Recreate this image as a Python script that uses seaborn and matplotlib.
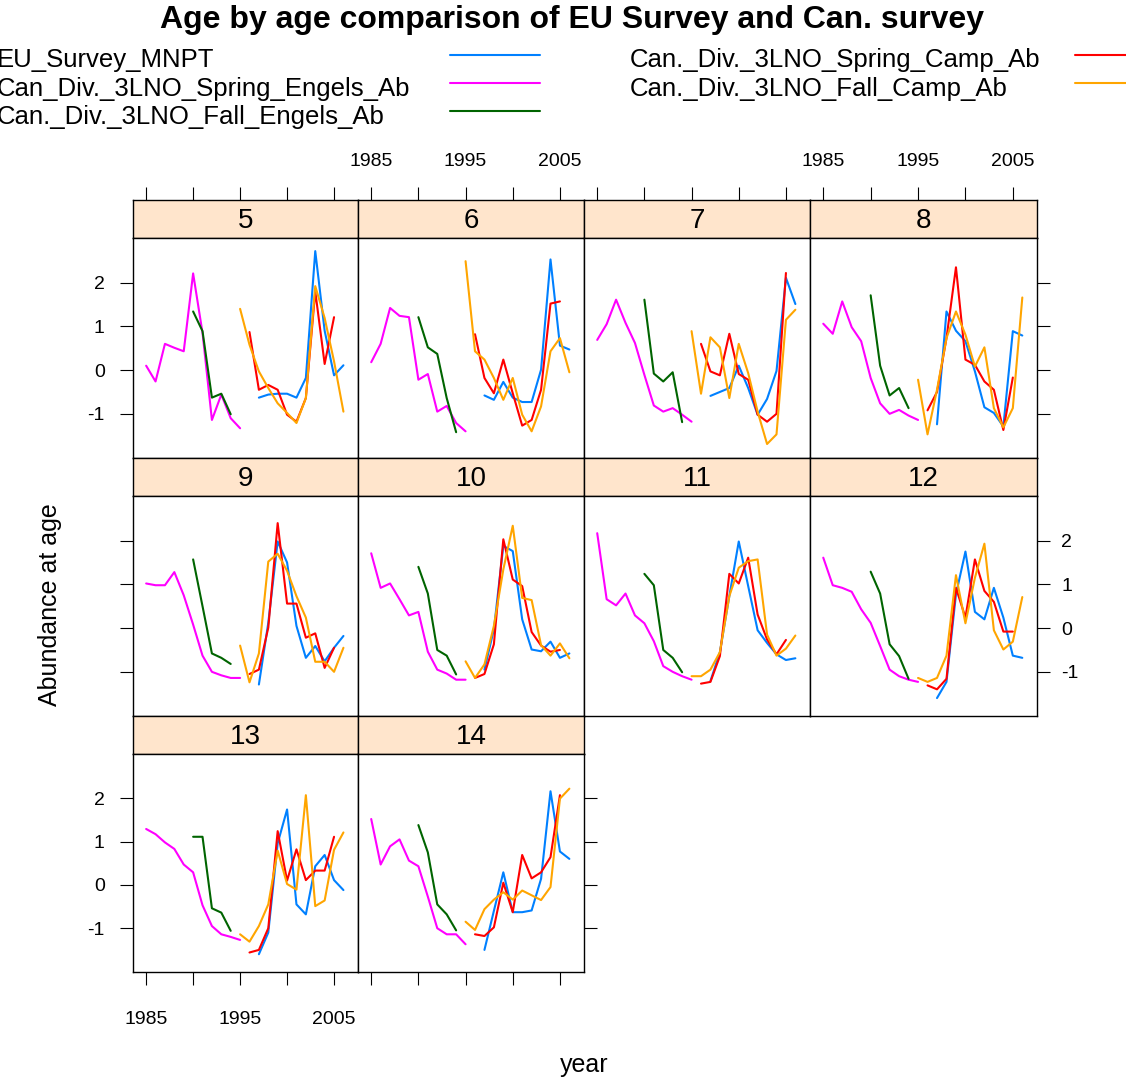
import numpy as np
import pandas as pd
import seaborn as sns
import matplotlib
matplotlib.use("Agg")
import matplotlib.pyplot as plt
from matplotlib.lines import Line2D

# ------------------------------------------------------------
# Data
# ------------------------------------------------------------
AGES = [5, 6, 7, 8, 9, 10, 11, 12, 13, 14]

SERIES = [
    "EU_Survey_MNPT",
    "Can_Div._3LNO_Spring_Engels_Ab",
    "Can._Div._3LNO_Fall_Engels_Ab",
    "Can._Div._3LNO_Spring_Camp_Ab",
    "Can._Div._3LNO_Fall_Camp_Ab",
]
COLORS = ["#0080ff", "#ff00ff", "#006400", "#ff0000", "#ffa500"]

YEARS_EU = list(range(1997, 2007))
YEARS_SPRING_ENGELS = list(range(1985, 1996))
YEARS_FALL_ENGELS = list(range(1990, 1995))
YEARS_SPRING_CAMP = list(range(1996, 2006))
YEARS_FALL_CAMP = list(range(1995, 2007))

# one row per age, 5..14
EU_MNPT = [
    [-0.63, -0.56, -0.54, -0.54, -0.63, -0.18, 2.72, 0.90, -0.12, 0.11],
    [-0.58, -0.68, -0.27, -0.63, -0.73, -0.73, 0.01, 2.53, 0.56, 0.47],
    [-0.59, -0.50, -0.41, 0.10, -0.41, -1.02, -0.66, -0.02, 2.11, 1.51],
    [-1.24, 1.34, 0.90, 0.66, -0.03, -0.85, -0.98, -1.29, 0.89, 0.79],
    [-1.29, 0.12, 1.98, 1.50, 0.05, -0.68, -0.41, -0.76, -0.45, -0.18],
    [-0.95, -0.03, 1.88, 1.76, 0.20, -0.49, -0.53, -0.31, -0.68, -0.58],
    [-1.21, -0.55, 0.73, 1.98, 0.96, -0.05, -0.34, -0.60, -0.73, -0.69],
    [-1.60, -1.23, 0.77, 1.75, 0.37, 0.20, 0.92, 0.24, -0.63, -0.68],
    [-1.60, -1.10, 0.96, 1.74, -0.45, -0.68, 0.43, 0.69, 0.11, -0.12],
    [-1.50, -0.60, 0.29, -0.63, -0.63, -0.59, 0.14, 2.16, 0.77, 0.60],
]

SPRING_ENGELS = [
    [0.10, -0.26, 0.60, 0.51, 0.43, 2.21, 0.85, -1.14, -0.56, -1.10, -1.33],
    [0.18, 0.60, 1.42, 1.24, 1.21, -0.22, -0.09, -0.95, -0.82, -1.21, -1.40],
    [0.69, 1.05, 1.61, 1.08, 0.62, -0.11, -0.81, -0.95, -0.87, -1.02, -1.18],
    [1.06, 0.83, 1.57, 0.98, 0.66, -0.18, -0.76, -1.00, -0.91, -1.04, -1.14],
    [1.02, 0.98, 0.98, 1.28, 0.75, 0.08, -0.63, -1.00, -1.08, -1.14, -1.14],
    [1.71, 0.92, 1.02, 0.66, 0.29, 0.37, -0.54, -0.95, -1.04, -1.18, -1.18],
    [2.17, 0.66, 0.52, 0.79, 0.29, 0.11, -0.30, -0.87, -1.00, -1.10, -1.18],
    [1.61, 0.98, 0.92, 0.83, 0.43, 0.12, -0.41, -0.95, -1.10, -1.18, -1.23],
    [1.29, 1.17, 0.98, 0.83, 0.47, 0.29, -0.47, -0.95, -1.14, -1.20, -1.27],
    [1.52, 0.47, 0.89, 1.05, 0.56, 0.43, -0.27, -1.00, -1.14, -1.14, -1.37],
]

FALL_ENGELS = [
    [1.34, 0.89, -0.63, -0.54, -1.01],
    [1.21, 0.52, 0.37, -0.64, -1.42],
    [1.61, -0.08, -0.26, -0.05, -1.19],
    [1.71, 0.10, -0.58, -0.41, -0.87],
    [1.57, 0.50, -0.58, -0.68, -0.82],
    [1.40, 0.79, -0.50, -0.63, -1.06],
    [1.24, 0.98, -0.50, -0.68, -1.01],
    [1.29, 0.79, -0.37, -0.64, -1.16],
    [1.11, 1.11, -0.54, -0.64, -1.06],
    [1.38, 0.75, -0.45, -0.68, -1.05],
]

SPRING_CAMP = [
    [0.87, -0.45, -0.34, -0.45, -1.02, -1.18, -0.64, 1.80, 0.14, 1.21],
    [0.82, -0.18, -0.53, 0.24, -0.53, -1.27, -1.14, -0.45, 1.52, 1.57],
    [0.60, -0.03, -0.12, 0.83, -0.09, -0.22, -1.02, -1.18, -1.00, 2.22],
    [-0.92, -0.50, 0.73, 2.35, 0.24, 0.12, -0.26, -0.45, -1.37, -0.17],
    [-1.05, -0.95, 0.01, 2.40, 0.56, 0.56, -0.22, -0.12, -0.91, -0.45],
    [-1.14, -1.05, -0.37, 2.03, 1.11, 0.96, -0.09, -0.40, -0.54, -0.50],
    [-1.27, -1.23, -0.64, 1.24, 1.02, 1.61, 0.31, -0.26, -0.60, -0.27],
    [-1.31, -1.40, -1.16, 0.92, 0.24, 1.57, 0.85, 0.60, -0.08, -0.08],
    [-1.56, -1.50, -1.00, 1.24, 0.10, 0.82, 0.11, 0.33, 0.33, 1.11],
    [-1.14, -1.18, -0.98, 0.05, -0.63, 0.69, 0.15, 0.29, 0.64, 2.07],
]

FALL_CAMP = [
    [1.40, 0.58, -0.03, -0.41, -0.76, -0.98, -1.21, -0.64, 1.92, 1.19, 0.20, -0.95],
    [2.49, 0.43, 0.24, -0.18, -0.68, -0.18, -1.02, -1.40, -0.83, 0.43, 0.73, -0.05],
    [0.89, -0.54, 0.75, 0.52, -0.64, 0.60, -0.07, -0.95, -1.69, -1.47, 1.15, 1.38],
    [-0.22, -1.47, -0.45, 0.73, 1.34, 0.81, 0.08, 0.52, -0.87, -1.31, -0.87, 1.66],
    [-0.40, -1.24, -0.58, 1.52, 1.70, 1.31, 0.73, 0.24, -0.77, -0.77, -1.00, -0.45],
    [-0.76, -1.14, -0.83, 0.05, 1.34, 2.34, 0.69, 0.64, -0.39, -0.63, -0.35, -0.69],
    [-1.10, -1.10, -0.95, -0.55, 0.73, 1.38, 1.53, 1.57, -0.15, -0.63, -0.47, -0.17],
    [-1.14, -1.23, -1.14, -0.63, 1.21, 0.11, 1.15, 1.93, -0.05, -0.49, -0.31, 0.71],
    [-1.14, -1.31, -0.95, -0.45, 0.79, 0.02, -0.11, 2.07, -0.49, -0.36, 0.81, 1.21],
    [-0.85, -1.04, -0.56, -0.34, -0.17, -0.34, -0.13, -0.24, -0.35, -0.05, 1.99, 2.22],
]

XTICKS = [1985, 1990, 1995, 2000, 2005]
XTICK_LABELS = ["1985", "", "1995", "", "2005"]
YTICKS = [-1, 0, 1, 2]

# ------------------------------------------------------------
# Long table for seaborn
# ------------------------------------------------------------
series_tables = [
    (SERIES[0], YEARS_EU, EU_MNPT),
    (SERIES[1], YEARS_SPRING_ENGELS, SPRING_ENGELS),
    (SERIES[2], YEARS_FALL_ENGELS, FALL_ENGELS),
    (SERIES[3], YEARS_SPRING_CAMP, SPRING_CAMP),
    (SERIES[4], YEARS_FALL_CAMP, FALL_CAMP),
]
rows = []
for name, years, table in series_tables:
    for i, age in enumerate(AGES):
        for yr, v in zip(years, table[i]):
            rows.append({"age": age, "year": yr, "value": v, "survey": name})
df = pd.DataFrame(rows)
palette = dict(zip(SERIES, COLORS))

# ------------------------------------------------------------
# Figure / layout (pixel based, lattice style)
# ------------------------------------------------------------
sns.set_theme(style="white")
plt.rcParams["font.family"] = ["Liberation Sans", "DejaVu Sans"]
plt.rcParams["axes.unicode_minus"] = False
plt.rcParams["text.color"] = "black"
plt.rcParams["axes.labelcolor"] = "black"
plt.rcParams["xtick.color"] = "black"
plt.rcParams["ytick.color"] = "black"

W, H = 1126, 1080
fig = plt.figure(figsize=(W / 100, H / 100), dpi=100)


def rect(x0, y0, x1, y1):
    return [x0 / W, 1 - y1 / H, (x1 - x0) / W, (y1 - y0) / H]


COL_X = [133, 358, 584, 810, 1037]
STRIP_TOP = [200, 458, 716]
PANEL_TOP = [238, 496, 754]
PANEL_BOT = [458, 716, 972]
XLIM = (1983.6, 2007.55)
YLIM = (-2.01, 3.02)
TL = 9.4  # tick length in points

for i, age in enumerate(AGES):
    r, c = divmod(i, 4)
    last_in_row = (c == 3) or (i == len(AGES) - 1)

    # strip
    sax = fig.add_axes(rect(COL_X[c], STRIP_TOP[r], COL_X[c + 1], PANEL_TOP[r]))
    sax.set_facecolor("#ffe5cc")
    sax.set_xlim(XLIM)
    sax.set_ylim(0, 1)
    sax.set_yticks([])
    sax.text(0.5, 0.45, str(age), transform=sax.transAxes, ha="center",
             va="center", fontsize=20, color="black")
    for sp in sax.spines.values():
        sp.set_color("black")
        sp.set_linewidth(1)
    sax.set_xticks(XTICKS)
    sax.set_xticklabels(XTICK_LABELS)
    sax.tick_params(axis="x", direction="out", length=TL, width=0.8,
                    colors="black", labelsize=14, pad=12,
                    bottom=False, labelbottom=False,
                    top=(r == 0), labeltop=(r == 0 and c in (1, 3)))

    # panel
    ax = fig.add_axes(rect(COL_X[c], PANEL_TOP[r], COL_X[c + 1], PANEL_BOT[r]))
    sub = df[df["age"] == age]
    sns.lineplot(data=sub, x="year", y="value", hue="survey",
                 hue_order=SERIES, palette=palette, estimator=None,
                 linewidth=1.5, legend=False, ax=ax)
    ax.set_xlim(XLIM)
    ax.set_ylim(YLIM)
    ax.set_xlabel("")
    ax.set_ylabel("")
    ax.set_xticks(XTICKS)
    ax.set_xticklabels(XTICK_LABELS)
    ax.set_yticks(YTICKS)
    ax.set_yticklabels([str(t) for t in YTICKS])
    for sp in ax.spines.values():
        sp.set_color("black")
        sp.set_linewidth(1)
    ax.tick_params(direction="out", length=TL, width=0.8, colors="black",
                   labelsize=14)
    ax.tick_params(axis="x", top=False, labeltop=False,
                   bottom=(r == 2), labelbottom=(r == 2 and c == 0), pad=19)
    ax.tick_params(axis="y", left=(c == 0), labelleft=(c == 0 and r != 1),
                   right=last_in_row, labelright=(last_in_row and r == 1))
    ax.tick_params(axis="y", which="major", pad=11)
    if last_in_row and r == 1:
        ax.yaxis.set_tick_params(pad=8)

# ------------------------------------------------------------
# Title, axis labels, key
# ------------------------------------------------------------
fig.text(572 / W, 1 - 20 / H,
         "Age by age comparison of EU Survey and Can. survey",
         ha="center", va="center", fontsize=23, fontweight="bold",
         color="black")
fig.text(584 / W, 1 - 1065 / H, "year", ha="center", va="center",
         fontsize=18, color="black")
fig.text(50 / W, 1 - 605 / H, "Abundance at age", ha="center", va="center",
         fontsize=18, rotation=90, color="black")

key_pos = [
    (-3, 67, 450, 540, 55),
    (-3, 96, 450, 540, 83),
    (-3, 124, 450, 540, 111),
    (630, 67, 1075, 1140, 55),
    (630, 96, 1075, 1140, 83),
]
for name, col, (tx, ty, lx0, lx1, ly) in zip(SERIES, COLORS, key_pos):
    fig.text(tx / W, 1 - ty / H, name, ha="left", va="baseline",
             fontsize=18.5, color="black")
    fig.add_artist(Line2D([lx0 / W, lx1 / W], [1 - ly / H, 1 - ly / H],
                          transform=fig.transFigure, color=col, linewidth=1.5))

fig.savefig("out.png", dpi=100, facecolor="white")
